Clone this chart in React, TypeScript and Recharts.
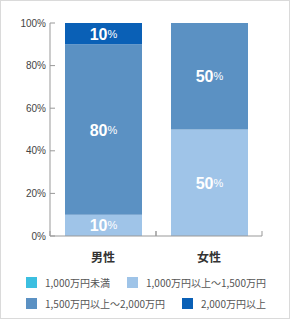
import { BarChart, Bar, XAxis, YAxis, LabelList } from "recharts"

const categories = ["男性", "女性"]
const seriesNames = ["1,000万円未満", "1,000万円以上～1,500万円", "1,500万円以上～2,000万円", "2,000万円以上"]
const seriesColors = ["#3cbfe0", "#9fc4e8", "#5b91c3", "#0a60b6"]
const under1000 = [0, 0]
const from1000to1500 = [10, 50]
const from1500to2000 = [80, 50]
const over2000 = [10, 0]
const yTicks = [0, 20, 40, 60, 80, 100]

const seriesValues = [under1000, from1000to1500, from1500to2000, over2000]
const data = categories.map((name, i) => {
  const row: Record<string, number | string> = { name }
  seriesValues.forEach((vals, s) => {
    row["s" + s] = vals[i]
  })
  return row
})

const BAND_HALF = 53

const CategoryTick = (props: any) => {
  const { x, y, payload } = props
  return (
    <g>
      <line x1={x - BAND_HALF} x2={x - BAND_HALF} y1={y - 5} y2={y} stroke="#999" />
      <line x1={x + BAND_HALF} x2={x + BAND_HALF} y1={y - 5} y2={y} stroke="#999" />
      <text x={x} y={y + 20} textAnchor="middle" dominantBaseline="central" fontSize={12} fontWeight={600} fill="#333">
        {payload.value}
      </text>
    </g>
  )
}

const PercentLabel = (props: any) => {
  const { x, y, width, height, value } = props
  if (!value) return null
  return (
    <text
      x={x + width / 2}
      y={y + height / 2}
      textAnchor="middle"
      dominantBaseline="central"
      fill="#fff"
      fontFamily="'Liberation Sans', Arial, sans-serif"
    >
      <tspan fontSize={16} fontWeight="bold">{value}</tspan>
      <tspan fontSize={11}>%</tspan>
    </text>
  )
}

const legendRows = [[0, 1], [2, 3]]

export default function App() {
  return (
    <div
      style={{
        position: "absolute",
        left: 0,
        top: 0,
        width: 290,
        height: 319,
        boxSizing: "border-box",
        border: "1px solid #dadada",
        background: "#fff",
        fontFamily: "'Noto Sans CJK JP', 'Liberation Sans', sans-serif",
      }}
    >
      <div style={{ position: "absolute", left: -1, top: -1 }}>
        <BarChart width={290} height={270} data={data} margin={{ top: 23, right: 28, left: 0, bottom: 0 }}>
          <XAxis
            dataKey="name"
            height={34}
            tickLine={false}
            tickSize={0}
            tickMargin={0}
            stroke="#999"
            tick={<CategoryTick />}
            interval={0}
          />
          <YAxis
            width={50}
            domain={[0, 100]}
            ticks={yTicks}
            tickFormatter={(v: number) => v + "%"}
            tickSize={-5}
            tickMargin={9}
            stroke="#999"
            tick={{ fontSize: 10, fill: "#444", fontFamily: "'Liberation Sans', Arial, sans-serif" }}
          />
          {seriesNames.map((n, s) => (
            <Bar key={n} dataKey={"s" + s} name={n} stackId="a" fill={seriesColors[s]} barSize={77} isAnimationActive={false}>
              <LabelList dataKey={"s" + s} content={<PercentLabel />} />
            </Bar>
          ))}
        </BarChart>
      </div>
      {legendRows.map((row, r) => (
        <div
          key={r}
          style={{
            position: "absolute",
            left: 0,
            width: 290,
            top: r === 0 ? 274 : 295,
            display: "flex",
            justifyContent: "center",
            gap: 17,
          }}
        >
          {row.map((s) => (
            <div key={s} style={{ display: "flex", alignItems: "center", height: 14 }}>
              <span style={{ width: 11, height: 11, background: seriesColors[s], display: "inline-block", marginRight: 8 }} />
              <span style={{ fontSize: 10, color: "#555", whiteSpace: "nowrap" }}>{seriesNames[s]}</span>
            </div>
          ))}
        </div>
      ))}
    </div>
  )
}
